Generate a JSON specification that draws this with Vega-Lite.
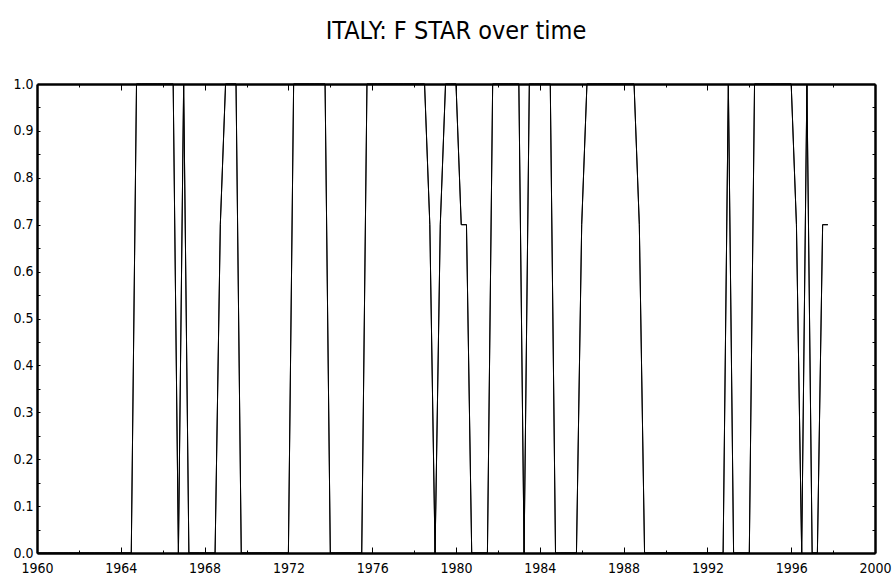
{
  "$schema": "https://vega.github.io/schema/vega-lite/v6.json",
  "autosize": "none",
  "width": 838,
  "height": 469,
  "padding": {"left": 37, "top": 84, "right": 17, "bottom": 28},
  "background": "white",
  "title": {
    "text": "ITALY: F STAR over time",
    "font": "DejaVu Sans Condensed, DejaVu Sans, sans-serif",
    "fontSize": 25,
    "fontWeight": 200,
    "color": "black",
    "anchor": "middle",
    "baseline": "alphabetic",
    "offset": 13
  },
  "config": {
    "view": {"stroke": null},
    "axis": {
      "domainColor": "black",
      "domainWidth": 2.5,
      "tickColor": "black",
      "tickWidth": 1,
      "grid": false,
      "labelFont": "DejaVu Sans Condensed, DejaVu Sans, sans-serif",
      "labelFontSize": 14,
      "labelColor": "black",
      "title": null
    }
  },
  "data": {
    "values": [
      {"year":1960.0,"fstar":0},{"year":1960.25,"fstar":0},{"year":1960.5,"fstar":0},{"year":1960.75,"fstar":0},
      {"year":1961.0,"fstar":0},{"year":1961.25,"fstar":0},{"year":1961.5,"fstar":0},{"year":1961.75,"fstar":0},
      {"year":1962.0,"fstar":0},{"year":1962.25,"fstar":0},{"year":1962.5,"fstar":0},{"year":1962.75,"fstar":0},
      {"year":1963.0,"fstar":0},{"year":1963.25,"fstar":0},{"year":1963.5,"fstar":0},{"year":1963.75,"fstar":0},
      {"year":1964.0,"fstar":0},{"year":1964.25,"fstar":0},{"year":1964.5,"fstar":0},{"year":1964.75,"fstar":1},
      {"year":1965.0,"fstar":1},{"year":1965.25,"fstar":1},{"year":1965.5,"fstar":1},{"year":1965.75,"fstar":1},
      {"year":1966.0,"fstar":1},{"year":1966.25,"fstar":1},{"year":1966.5,"fstar":1},{"year":1966.75,"fstar":0},
      {"year":1967.0,"fstar":1},{"year":1967.25,"fstar":0},{"year":1967.5,"fstar":0},{"year":1967.75,"fstar":0},
      {"year":1968.0,"fstar":0},{"year":1968.25,"fstar":0},{"year":1968.5,"fstar":0},{"year":1968.75,"fstar":0.7},
      {"year":1969.0,"fstar":1},{"year":1969.25,"fstar":1},{"year":1969.5,"fstar":1},{"year":1969.75,"fstar":0},
      {"year":1970.0,"fstar":0},{"year":1970.25,"fstar":0},{"year":1970.5,"fstar":0},{"year":1970.75,"fstar":0},
      {"year":1971.0,"fstar":0},{"year":1971.25,"fstar":0},{"year":1971.5,"fstar":0},{"year":1971.75,"fstar":0},
      {"year":1972.0,"fstar":0},{"year":1972.25,"fstar":1},{"year":1972.5,"fstar":1},{"year":1972.75,"fstar":1},
      {"year":1973.0,"fstar":1},{"year":1973.25,"fstar":1},{"year":1973.5,"fstar":1},{"year":1973.75,"fstar":1},
      {"year":1974.0,"fstar":0},{"year":1974.25,"fstar":0},{"year":1974.5,"fstar":0},{"year":1974.75,"fstar":0},
      {"year":1975.0,"fstar":0},{"year":1975.25,"fstar":0},{"year":1975.5,"fstar":0},{"year":1975.75,"fstar":1},
      {"year":1976.0,"fstar":1},{"year":1976.25,"fstar":1},{"year":1976.5,"fstar":1},{"year":1976.75,"fstar":1},
      {"year":1977.0,"fstar":1},{"year":1977.25,"fstar":1},{"year":1977.5,"fstar":1},{"year":1977.75,"fstar":1},
      {"year":1978.0,"fstar":1},{"year":1978.25,"fstar":1},{"year":1978.5,"fstar":1},{"year":1978.75,"fstar":0.7},
      {"year":1979.0,"fstar":0},{"year":1979.25,"fstar":0.7},{"year":1979.5,"fstar":1},{"year":1979.75,"fstar":1},
      {"year":1980.0,"fstar":1},{"year":1980.25,"fstar":0.7},{"year":1980.5,"fstar":0.7},{"year":1980.75,"fstar":0},
      {"year":1981.0,"fstar":0},{"year":1981.25,"fstar":0},{"year":1981.5,"fstar":0},{"year":1981.75,"fstar":1},
      {"year":1982.0,"fstar":1},{"year":1982.25,"fstar":1},{"year":1982.5,"fstar":1},{"year":1982.75,"fstar":1},
      {"year":1983.0,"fstar":1},{"year":1983.25,"fstar":0},{"year":1983.5,"fstar":1},{"year":1983.75,"fstar":1},
      {"year":1984.0,"fstar":1},{"year":1984.25,"fstar":1},{"year":1984.5,"fstar":1},{"year":1984.75,"fstar":0},
      {"year":1985.0,"fstar":0},{"year":1985.25,"fstar":0},{"year":1985.5,"fstar":0},{"year":1985.75,"fstar":0},
      {"year":1986.0,"fstar":0.7},{"year":1986.25,"fstar":1},{"year":1986.5,"fstar":1},{"year":1986.75,"fstar":1},
      {"year":1987.0,"fstar":1},{"year":1987.25,"fstar":1},{"year":1987.5,"fstar":1},{"year":1987.75,"fstar":1},
      {"year":1988.0,"fstar":1},{"year":1988.25,"fstar":1},{"year":1988.5,"fstar":1},{"year":1988.75,"fstar":0.7},
      {"year":1989.0,"fstar":0},{"year":1989.25,"fstar":0},{"year":1989.5,"fstar":0},{"year":1989.75,"fstar":0},
      {"year":1990.0,"fstar":0},{"year":1990.25,"fstar":0},{"year":1990.5,"fstar":0},{"year":1990.75,"fstar":0},
      {"year":1991.0,"fstar":0},{"year":1991.25,"fstar":0},{"year":1991.5,"fstar":0},{"year":1991.75,"fstar":0},
      {"year":1992.0,"fstar":0},{"year":1992.25,"fstar":0},{"year":1992.5,"fstar":0},{"year":1992.75,"fstar":0},
      {"year":1993.0,"fstar":1},{"year":1993.25,"fstar":0},{"year":1993.5,"fstar":0},{"year":1993.75,"fstar":0},
      {"year":1994.0,"fstar":0},{"year":1994.25,"fstar":1},{"year":1994.5,"fstar":1},{"year":1994.75,"fstar":1},
      {"year":1995.0,"fstar":1},{"year":1995.25,"fstar":1},{"year":1995.5,"fstar":1},{"year":1995.75,"fstar":1},
      {"year":1996.0,"fstar":1},{"year":1996.25,"fstar":0.7},{"year":1996.5,"fstar":0},{"year":1996.75,"fstar":1},
      {"year":1997.0,"fstar":0},{"year":1997.25,"fstar":0},{"year":1997.5,"fstar":0.7},{"year":1997.75,"fstar":0.7}
    ]
  },
  "layer": [
    {
      "mark": {"type": "line", "color": "black", "strokeWidth": 1},
      "encoding": {
        "x": {
          "field": "year", "type": "quantitative",
          "scale": {"domain": [1960, 2000], "nice": false, "zero": false},
          "axis": {
            "orient": "bottom",
            "values": [1960,1962,1964,1966,1968,1970,1972,1974,1976,1978,1980,1982,1984,1986,1988,1990,1992,1994,1996,1998,2000],
            "labelExpr": "datum.value % 4 === 0 ? toString(datum.value) : ''",
            "tickSize": {"condition": {"test": "datum.value % 4 === 0", "value": -6}, "value": -3},
            "labelPadding": 14,
            "labelFlush": false,
            "labelOverlap": false
          }
        },
        "y": {
          "field": "fstar", "type": "quantitative",
          "scale": {"domain": [0, 1], "nice": false, "zero": false},
          "axis": {
            "orient": "left",
            "values": [0,0.05,0.1,0.15,0.2,0.25,0.3,0.35,0.4,0.45,0.5,0.55,0.6,0.65,0.7,0.75,0.8,0.85,0.9,0.95,1],
            "labelExpr": "round(datum.value*100) % 10 === 0 ? format(datum.value, '.1f') : ''",
            "tickSize": -3,
            "labelPadding": 7,
            "labelOverlap": false,
            "labelFlush": false
          }
        }
      }
    },
    {
      "mark": {"type": "line", "color": "black", "strokeWidth": 1},
      "encoding": {
        "x": {
          "field": "year", "type": "quantitative",
          "scale": {"domain": [1960, 2000], "nice": false, "zero": false},
          "axis": {
            "orient": "top",
            "values": [1960,1962,1964,1966,1968,1970,1972,1974,1976,1978,1980,1982,1984,1986,1988,1990,1992,1994,1996,1998,2000],
            "labels": false,
            "tickSize": {"condition": {"test": "datum.value % 4 === 0", "value": -6}, "value": -3}
          }
        },
        "y": {
          "field": "fstar", "type": "quantitative",
          "scale": {"domain": [0, 1], "nice": false, "zero": false},
          "axis": {
            "orient": "right",
            "values": [0,0.05,0.1,0.15,0.2,0.25,0.3,0.35,0.4,0.45,0.5,0.55,0.6,0.65,0.7,0.75,0.8,0.85,0.9,0.95,1],
            "labels": false,
            "tickSize": -3
          }
        }
      }
    }
  ],
  "resolve": {"axis": {"x": "independent", "y": "independent"}}
}
